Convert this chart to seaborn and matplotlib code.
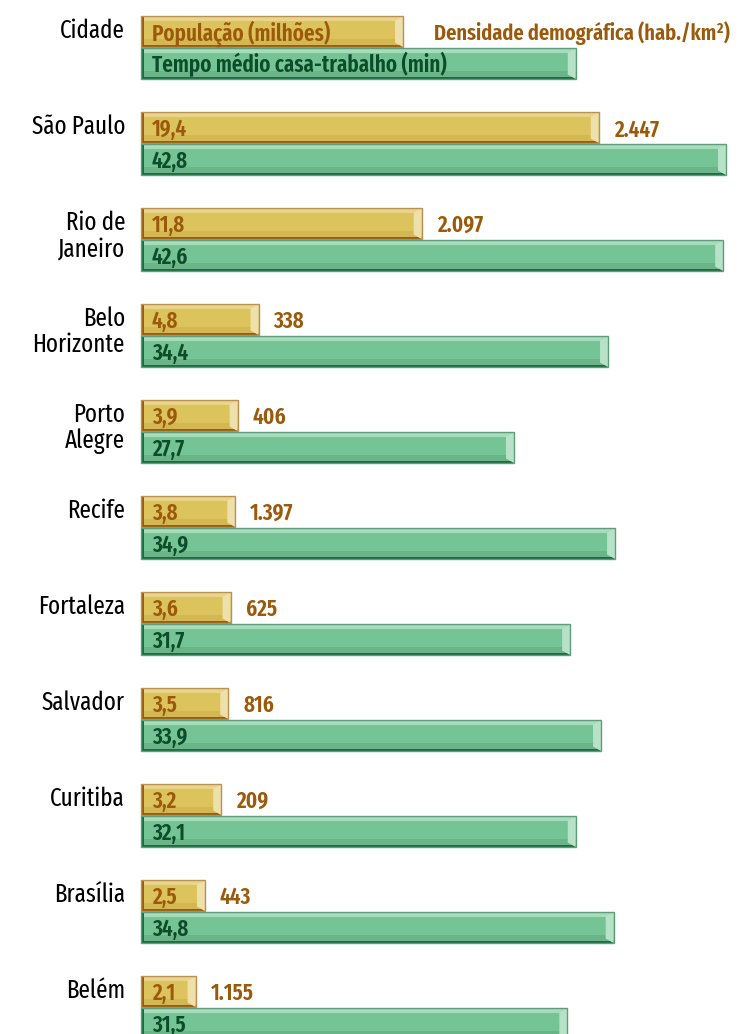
import matplotlib
matplotlib.use("Agg")
import matplotlib.pyplot as plt
from matplotlib.patches import Rectangle, Polygon
import pandas as pd
import seaborn as sns

sns.set_theme(style="white")
plt.rcParams["font.family"] = ["Fira Sans Extra Condensed", "DejaVu Sans"]

# data
cidades = ["São Paulo", "Rio de Janeiro", "Belo Horizonte", "Porto Alegre", "Recife",
           "Fortaleza", "Salvador", "Curitiba", "Brasília", "Belém"]
rotulos = ["São Paulo", "Rio de\nJaneiro", "Belo\nHorizonte", "Porto\nAlegre", "Recife",
           "Fortaleza", "Salvador", "Curitiba", "Brasília", "Belém"]
populacao = [19.4, 11.8, 4.8, 3.9, 3.8, 3.6, 3.5, 3.2, 2.5, 2.1]
densidade = ["2.447", "2.097", "338", "406", "1.397", "625", "816", "209", "443", "1.155"]
tempo = [42.8, 42.6, 34.4, 27.7, 34.9, 31.7, 33.9, 32.1, 34.8, 31.5]

df = pd.DataFrame({"cidade": cidades, "populacao": populacao, "tempo": tempo})

POP = dict(body="#dcc35c", light="#e8d58c", shade="#d2b752", dark="#9a5c12",
           edge="#bb9050", end="#ede0aa", text="#9b5a0b")
TEM = dict(body="#75c495", light="#a9dbba", shade="#6bb488", dark="#1e6a43",
           edge="#5c9e7c", end="#b8e2c8", text="#0b4d2a")

W, H = 743, 1034
fig = plt.figure(figsize=(W / 100, H / 100), dpi=100)
fig.patch.set_facecolor("white")

left = 141 / W
width = (W - 141) / W
ax_pop = fig.add_axes([left, -0.00551, width, 1.02128])
ax_tem = fig.add_axes([left, -0.00551 - 32 / H, width, 1.02128])

sns.barplot(data=df, y="cidade", x="populacao", orient="h", ax=ax_pop,
            color=POP["body"], width=0.32, linewidth=0, saturation=1, errorbar=None)
sns.barplot(data=df, y="cidade", x="tempo", orient="h", ax=ax_tem,
            color=TEM["body"], width=0.32, linewidth=0, saturation=1, errorbar=None)

ax_pop.set_xlim(-0.2446, 25.59)
ax_tem.set_xlim(1.1325, 44.01)
for ax in (ax_pop, ax_tem):
    ax.set_ylim(9.5, -1.5)
    ax.set_axis_off()
    ax.patch.set_alpha(0)


def bevel(ax, p, c):
    # bar starts at the left edge of the axes, then a bevelled look on top
    x0 = ax.get_xlim()[0]
    end = p.get_x() + p.get_width()
    p.set_x(x0)
    p.set_width(end - x0)
    x, y, w, h = p.get_x(), p.get_y(), p.get_width(), p.get_height()
    bb = ax.get_window_extent()
    sx = (ax.get_xlim()[1] - x0) / bb.width
    sy = 11.0 / bb.height
    ax.add_patch(Rectangle((x, y), w, 4.5 * sy, color=c["light"], lw=0, clip_on=False))
    ax.add_patch(Rectangle((x, y + h - 8 * sy), w, 6 * sy, color=c["shade"], lw=0, clip_on=False))
    ax.add_patch(Rectangle((x, y + h - 2.5 * sy), w, 2.5 * sy, color=c["dark"], lw=0, clip_on=False))
    ax.add_patch(Polygon([(end - 8 * sx, y + 4.5 * sy), (end, y), (end, y + h),
                          (end - 8 * sx, y + h - 4.5 * sy)], closed=True,
                         color=c["end"], lw=0, clip_on=False))
    ax.add_patch(Rectangle((x, y), 2.5 * sx, h, color=c["dark"], lw=0, clip_on=False))
    ax.add_patch(Rectangle((x, y), w, h, fill=False, edgecolor=c["edge"], lw=1, clip_on=False))


# legend row (row -1)
ax_pop.barh(-1, 11.0, height=0.32, color=POP["body"], lw=0)
ax_tem.barh(-1, 32.1, height=0.32, color=TEM["body"], lw=0)

fig.canvas.draw()
for p in list(ax_pop.patches):
    bevel(ax_pop, p, POP)
for p in list(ax_tem.patches):
    bevel(ax_tem, p, TEM)

fs_val = 16.5
kw_pop = dict(textcoords="offset pixels", va="baseline", ha="left",
              fontsize=fs_val, fontweight=600, color=POP["text"])
kw_tem = dict(kw_pop, color=TEM["text"])

# values inside bars and density labels
for i in range(len(cidades)):
    ax_pop.annotate(f"{populacao[i]:.1f}".replace(".", ","), xy=(ax_pop.get_xlim()[0], i),
                    xytext=(11, -8.5), **kw_pop)
    ax_pop.annotate(densidade[i], xy=(populacao[i], i), xytext=(15, -8.5), **kw_pop)
    ax_tem.annotate(f"{tempo[i]:.1f}".replace(".", ","), xy=(ax_tem.get_xlim()[0], i),
                    xytext=(11, -8.5), **kw_tem)

# legend texts
ax_pop.annotate("População (milhões)", xy=(ax_pop.get_xlim()[0], -1), xytext=(11, -8.5), **kw_pop)
ax_pop.annotate("Densidade demográfica (hab./km²)", xy=(11.0, -1), xytext=(31, -8.5),
                **dict(kw_pop, fontsize=16))
ax_tem.annotate("Tempo médio casa-trabalho (min)", xy=(ax_tem.get_xlim()[0], -1), xytext=(11, -8.5), **kw_tem)

# city labels: two-line names keep a tighter line spacing than the bar pitch
kw_city = dict(textcoords="offset pixels", va="baseline", ha="right", fontsize=18, color="black")
ax_pop.annotate("Cidade", xy=(ax_pop.get_xlim()[0], -1), xytext=(-16, -6.5), **kw_city)
for i, r in enumerate(rotulos):
    linhas = r.split("\n")
    for k, linha in enumerate(linhas):
        ax_pop.annotate(linha, xy=(ax_pop.get_xlim()[0], i), xytext=(-16, -6.5 - 26 * k), **kw_city)

fig.savefig("out.png", dpi=100)
